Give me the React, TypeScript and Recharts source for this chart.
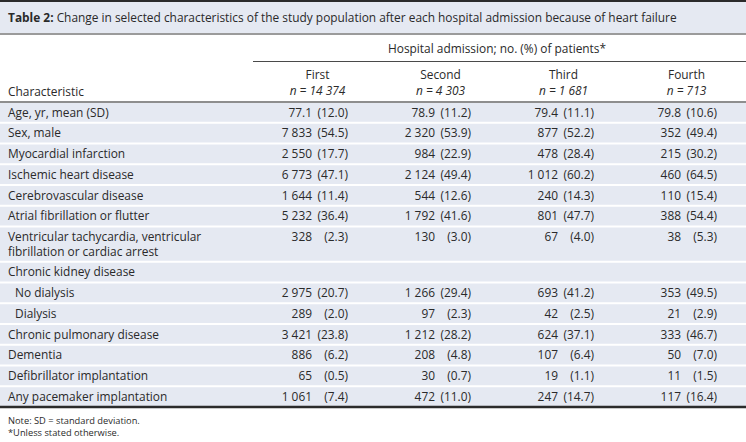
import React from 'react';
import { ComposedChart, Scatter, XAxis, YAxis, ReferenceArea, ReferenceLine } from 'recharts';

const characteristics = [
  'Age, yr, mean (SD)',
  'Sex, male',
  'Myocardial infarction',
  'Ischemic heart disease',
  'Cerebrovascular disease',
  'Atrial fibrillation or flutter',
  'Ventricular tachycardia, ventricular\nfibrillation or cardiac arrest',
  'Chronic kidney disease',
  'No dialysis',
  'Dialysis',
  'Chronic pulmonary disease',
  'Dementia',
  'Defibrillator implantation',
  'Any pacemaker implantation',
];
const indentLevels = [0, 0, 0, 0, 0, 0, 0, 0, 1, 1, 0, 0, 0, 0];

const admissions = ['First', 'Second', 'Third', 'Fourth'];
const patientsN = [14374, 4303, 1681, 713];

const firstCounts = [77.1, 7833, 2550, 6773, 1644, 5232, 328, null, 2975, 289, 3421, 886, 65, 1061];
const firstPcts = [12.0, 54.5, 17.7, 47.1, 11.4, 36.4, 2.3, null, 20.7, 2.0, 23.8, 6.2, 0.5, 7.4];
const secondCounts = [78.9, 2320, 984, 2124, 544, 1792, 130, null, 1266, 97, 1212, 208, 30, 472];
const secondPcts = [11.2, 53.9, 22.9, 49.4, 12.6, 41.6, 3.0, null, 29.4, 2.3, 28.2, 4.8, 0.7, 11.0];
const thirdCounts = [79.4, 877, 478, 1012, 240, 801, 67, null, 693, 42, 624, 107, 19, 247];
const thirdPcts = [11.1, 52.2, 28.4, 60.2, 14.3, 47.7, 4.0, null, 41.2, 2.5, 37.1, 6.4, 1.1, 14.7];
const fourthCounts = [79.8, 352, 215, 460, 110, 388, 38, null, 353, 21, 333, 50, 11, 117];
const fourthPcts = [10.6, 49.4, 30.2, 64.5, 15.4, 54.4, 5.3, null, 49.5, 2.9, 46.7, 7.0, 1.5, 16.4];

const title = 'Change in selected characteristics of the study population after each hospital admission because of heart failure';
const titleLabel = 'Table 2:';
const spannerText = 'Hospital admission; no. (%) of patients*';
const stubHeader = 'Characteristic';
const notes = ['Note: SD = standard deviation.', '*Unless stated otherwise.'];

const columnCounts = [firstCounts, secondCounts, thirdCounts, fourthCounts];
const columnPcts = [firstPcts, secondPcts, thirdPcts, fourthPcts];

// layout constants
const W = 746;
const H = 442;
const FONT = "'Open Sans', sans-serif";
const FS = 11.9;
const TEXT = '#2a2a2a';
const BG = '#e5e9f2';
const STUB_W = 253;
const COL_W = 123;
const X_MIN = -STUB_W / COL_W;
const X_MAX = (W - STUB_W) / COL_W;
const LINE_EXTRA = 0.7;
const PLOT_TOP = 102;
const PLOT_BOTTOM = 407;
const HEADER_H = 40;

const rowLines = characteristics.map((c) => c.split('\n').length);
const rowUnits = rowLines.map((n) => 1 + (n - 1) * LINE_EXTRA);
const rowTops: number[] = [];
rowUnits.reduce((acc, u) => {
  rowTops.push(acc);
  return acc + u;
}, 0);
const TOTAL = rowUnits.reduce((a, b) => a + b, 0);
const boundaries = rowTops.slice(1);

const fmtInt = (n: number) => {
  const s = String(Math.round(n));
  return s.replace(/\B(?=(\d{3})+(?!\d))/g, ' ');
};
const fmtCount = (v: number) => (Number.isInteger(v) ? fmtInt(v) : v.toFixed(1));
const fmtPct = (v: number) => `(${v.toFixed(1)})`;

const labelData = characteristics.map((label, i) => ({
  x: X_MIN,
  y: rowTops[i] + 0.5,
  label,
  indent: indentLevels[i],
}));

const columnData = columnCounts.map((counts, c) =>
  counts
    .map((v, i) => ({ x: c + 0.5, y: rowTops[i] + 0.5, count: v, pct: columnPcts[c][i] }))
    .filter((d) => d.count !== null)
);

const LabelShape = (props: any) => {
  const { cx, cy, payload } = props;
  const lines = String(payload.label).split('\n');
  const unitPx = (PLOT_BOTTOM - PLOT_TOP) / TOTAL;
  return (
    <text x={cx + 8 + payload.indent * 7} y={cy} fontFamily={FONT} fontSize={FS} fill={TEXT}>
      {lines.map((ln, k) => (
        <tspan key={k} x={cx + 8 + payload.indent * 7} y={cy + k * LINE_EXTRA * unitPx} dy="0.36em">
          {ln}
        </tspan>
      ))}
    </text>
  );
};

const CellShape = (props: any) => {
  const { cx, cy, payload } = props;
  const right = cx + 33.5;
  return (
    <g>
      <text x={right - 36} y={cy} dy="0.36em" textAnchor="end" fontFamily={FONT} fontSize={FS} fill={TEXT}>
        {fmtCount(payload.count)}
      </text>
      <text x={right} y={cy} dy="0.36em" textAnchor="end" fontFamily={FONT} fontSize={FS} fill={TEXT}>
        {fmtPct(payload.pct)}
      </text>
    </g>
  );
};

const HeaderTick = (props: any) => {
  const { x, index } = props;
  return (
    <text x={x + 3} y={75} textAnchor="middle" fontFamily={FONT} fontSize={FS} fill={TEXT}>
      <tspan x={x + 3} y={75} dy="0.36em">
        {admissions[index]}
      </tspan>
      <tspan x={x + 3} y={91} dy="0.36em" fontStyle="italic">
        {`n = ${fmtInt(patientsN[index])}`}
      </tspan>
    </text>
  );
};

export default function App() {
  return (
    <div style={{ position: 'absolute', left: 0, top: 0, width: W, height: H, background: '#fff', fontFamily: FONT, color: TEXT }}>
      <div style={{ position: 'absolute', left: 0, top: 0, width: W, height: 2, background: '#2b2b2b' }} />
      <div
        style={{
          position: 'absolute',
          left: 0,
          top: 2,
          width: W,
          height: 31,
          background: BG,
          borderBottom: '2px solid #9b9b9b',
        }}
      />
      <div style={{ position: 'absolute', left: 8, top: 8, fontSize: FS, lineHeight: '18px', whiteSpace: 'nowrap' }}>
        <b>{titleLabel}</b> {title}
      </div>
      <div style={{ position: 'absolute', left: 388, top: 39, fontSize: FS, lineHeight: '18px', whiteSpace: 'nowrap' }}>
        {spannerText}
      </div>
      <div style={{ position: 'absolute', left: STUB_W, top: 61, width: W - STUB_W, height: 1, background: '#4a4a4a' }} />
      <div style={{ position: 'absolute', left: 8, top: 82, fontSize: FS, lineHeight: '18px', whiteSpace: 'nowrap' }}>
        {stubHeader}
      </div>
      <div style={{ position: 'absolute', left: 0, top: 0 }}>
        <ComposedChart
          width={W}
          height={H}
          margin={{ top: PLOT_TOP - HEADER_H, right: 0, bottom: H - PLOT_BOTTOM, left: 0 }}
        >
          <XAxis
            type="number"
            dataKey="x"
            orientation="top"
            domain={[X_MIN, X_MAX]}
            ticks={[0.5, 1.5, 2.5, 3.5]}
            axisLine={false}
            tickLine={false}
            height={HEADER_H}
            tick={<HeaderTick />}
            interval={0}
            allowDataOverflow
          />
          <YAxis type="number" dataKey="y" domain={[0, TOTAL]} reversed hide allowDataOverflow />
          <ReferenceArea x1={X_MIN} x2={X_MAX} y1={0} y2={TOTAL} fill={BG} fillOpacity={1} stroke="none" ifOverflow="visible" />
          {boundaries.map((b, i) => (
            <ReferenceLine key={i} y={b} stroke="#ffffff" strokeWidth={2} ifOverflow="visible" />
          ))}
          <ReferenceLine y={0} stroke="#8e8e8e" strokeWidth={2} ifOverflow="visible" />
          <ReferenceLine y={TOTAL} stroke="#2b2b2b" strokeWidth={2.5} ifOverflow="visible" />
          <Scatter data={labelData} shape={<LabelShape />} isAnimationActive={false} />
          {columnData.map((d, c) => (
            <Scatter key={c} data={d} shape={<CellShape />} isAnimationActive={false} />
          ))}
        </ComposedChart>
      </div>
      <div style={{ position: 'absolute', left: 8, top: 415, fontSize: 9.3, lineHeight: '12px', whiteSpace: 'nowrap' }}>
        {notes.map((n, i) => (
          <div key={i}>{n}</div>
        ))}
      </div>
    </div>
  );
}
